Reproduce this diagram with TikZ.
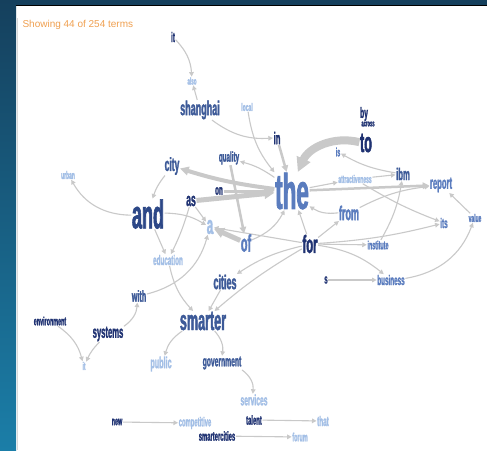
\documentclass[tikz,border=0pt]{standalone}
\usepackage{fontspec}
\setmainfont{Liberation Sans}
\newfontfamily\termfont[FakeStretch=0.45,FakeBold=1.5]{Liberation Sans}
\usetikzlibrary{arrows.meta,backgrounds}
\definecolor{termdark}{HTML}{1F3272}
\definecolor{termnavy}{HTML}{2C4787}
\definecolor{termmid}{HTML}{3D5A98}
\definecolor{termsoft}{HTML}{5A7CBE}
\definecolor{termlight}{HTML}{A3BFE6}
\definecolor{linkgray}{HTML}{C9C9C9}
\definecolor{frametop}{HTML}{15405D}
\definecolor{framebot}{HTML}{1B7EA8}
\definecolor{countorange}{HTML}{F0A050}

\begin{document}
\begin{tikzpicture}[x=1pt,y=-1pt,
  term/.style={font=\termfont\bfseries\fontsize{#1}{#1}\selectfont,inner sep=0.5pt},
  dk/.style={text=termdark}, nv/.style={text=termnavy}, md/.style={text=termmid},
  sf/.style={text=termsoft}, lt/.style={text=termlight},
  link/.style={draw=linkgray,line width=#1,-{Triangle[length=3pt 1.4,width=3pt 1.4]}},
  link/.default=1.1pt]
\useasboundingbox (0,0) rectangle (487,450);

\node[anchor=west,text=countorange,font=\fontsize{10}{10}\selectfont] (count) at (19,25) {Showing 44 of 254 terms};

% words
\node[term=14,dk] (it) at (173,37) {it};
\node[term=10,lt] (also) at (192,81) {also};
\node[term=20,md] (shanghai) at (200,110) {shanghai};
\node[term=11,lt] (local) at (247,107) {local};
\node[term=17,dk] (in) at (277,138) {in};
\node[term=15,dk] (by) at (364,114) {by};
\node[term=9,dk] (across) at (368,124) {across};
\node[term=28,dk] (to) at (366,143) {to};
\node[term=19,md] (city) at (172,166) {city};
\node[term=14,md] (quality) at (229,158) {quality};
\node[term=11,lt] (urban) at (68,175) {urban};
\node[term=14,dk] (on) at (219,191) {on};
\node[term=19,dk] (as) at (191,201) {as};
\node[term=50,sf] (the) at (292,191) {the};
\node[term=40,nv] (and) at (148,214) {and};
\node[term=26,lt] (a) at (210,227) {a};
\node[term=24,sf] (of) at (246,243) {of};
\node[term=25,dk] (for) at (310,244) {for};
\node[term=12,sf] (is) at (338,152) {is};
\node[term=17,md] (ibm) at (403,174) {ibm};
\node[term=11,lt] (attract) at (355,179) {attractiveness};
\node[term=17,sf] (report) at (441,185) {report};
\node[term=20,sf] (from) at (349,213) {from};
\node[term=14,sf] (its) at (444,223) {its};
\node[term=11,sf] (value) at (475,218) {value};
\node[term=12,sf] (institute) at (378,245) {institute};
\node[term=14,lt] (education) at (168,260) {education};
\node[term=20,md] (cities) at (225,282) {cities};
\node[term=13,dk] (s) at (326,280) {s};
\node[term=14,sf] (business) at (391,280) {business};
\node[term=16,md] (with) at (139,296) {with};
\node[term=28,md] (smarter) at (203,321) {smarter};
\node[term=12,dk] (environment) at (50,321) {environment};
\node[term=17,dk] (systems) at (108,334) {systems};
\node[term=11,lt] (itb) at (84,366) {it};
\node[term=16,lt] (public) at (161,364) {public};
\node[term=15,md] (government) at (222,363) {government};
\node[term=15,lt] (services) at (254,400) {services};
\node[term=12,dk] (new) at (117,422) {new};
\node[term=13,lt] (competitive) at (195,423) {competitive};
\node[term=13,dk] (talent) at (254,420) {talent};
\node[term=14,lt] (that) at (323,421) {that};
\node[term=13,dk] (smartercities) at (217,436) {smartercities};
\node[term=12,lt] (forum) at (300,437) {forum};

\begin{scope}[on background layer]
\fill[white] (0,0) rectangle (487,450);
\shade[top color=frametop,bottom color=framebot] (0,0) rectangle (16,450);
\fill[frametop] (16,0) rectangle (487,5);
\draw[black,line width=1pt] (16,5.5) -- (487,5.5);
\draw[black!15] (17.5,18) -- (17.5,450);
% links
\draw[link] (it) to[bend left=20] (also);
\draw[link] (shanghai) -- (also);
\draw[link] (shanghai) to[bend right=20] (in);
\draw[link] (local) to[bend right=15] (the);
\draw[link=2.5pt] (in) -- (the);
\draw[link] (the) to[bend right=10] (quality);
\draw[link=2.5pt] (quality) -- (of);
\draw[link=4pt] (the) to[bend left=5] (city);
\draw[link=5pt] (as) -- (the);
\draw[link=3pt] (on) -- (the);
\draw[link] (city) to[bend right=10] (and);
\draw[link] (and) to[bend left=30] (urban);
\draw[link] (and) to[bend left=15] (a);
\draw[link] (and) -- (education);
\draw[link] (as) to[bend left=5] (education);
\draw[link] (as) -- (a);
\draw[link=5pt] (of) -- (a);
\draw[link] (for) -- (a);
\draw[link] (of) to[bend right=20] (the);
\draw[link] (for) -- (the);
\draw[link] (from) to[bend left=20] (the);
\draw[link] (for) -- (from);
\draw[link] (from) to[bend left=10] (report);
\draw[link=2.5pt] (the) -- (report);
\draw[link] (the) -- (attract);
\draw[link] (attract) -- (ibm);
\draw[link] (ibm) to[bend left=10] (is);
\draw[link=8pt] (to) to[bend right=40] (the);
\draw[link] (attract) to[bend right=5] (its);
\draw[link] (for) to[bend right=5] (its);
\draw[link] (institute) to[bend right=10] (ibm);
\draw[link] (for) -- (institute);
\draw[link] (for) to[bend left=15] (business);
\draw[link] (business) to[bend right=30] (value);
\draw[link] (value) -- (report);
\draw[link] (s) -- (business);
\draw[link] (with) to[bend right=30] (a);
\draw[link] (education) to[bend right=15] (smarter);
\draw[link] (cities) -- (smarter);
\draw[link] (for) to[bend right=10] (cities);
\draw[link] (for) to[bend right=5] (smarter);
\draw[link] (smarter) to[bend right=20] (public);
\draw[link] (smarter) to[bend left=25] (government);
\draw[link] (government) to[bend left=30] (services);
\draw[link] (systems) to[bend right=25] (with);
\draw[link] (systems) to[bend right=10] (itb);
\draw[link] (environment) to[bend left=20] (itb);
\draw[link] (new) -- (competitive);
\draw[link] (talent) -- (that);
\draw[link] (smartercities) -- (forum);
\end{scope}
\end{tikzpicture}
\end{document}
